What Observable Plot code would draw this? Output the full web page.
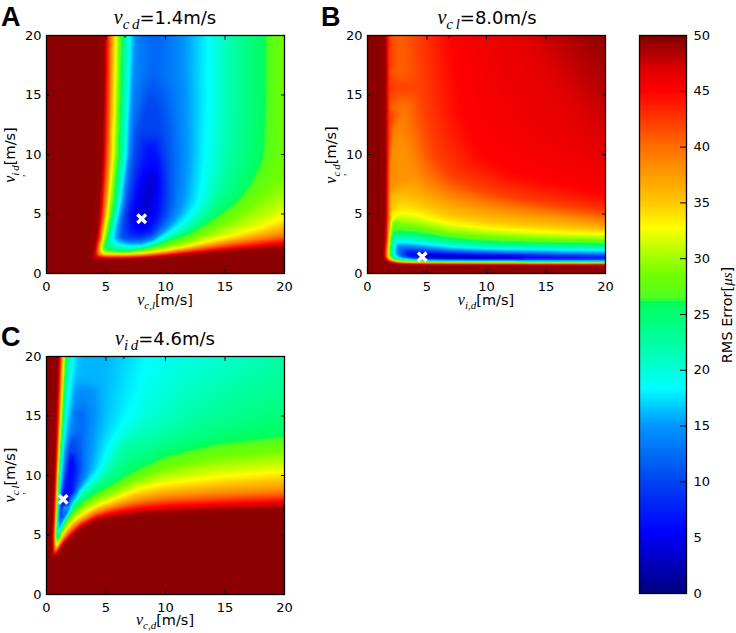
<!DOCTYPE html>
<html><head><meta charset="utf-8">
<script src="https://cdn.jsdelivr.net/npm/d3@7"></script>
<script src="https://cdn.jsdelivr.net/npm/@observablehq/plot@0.6"></script>
<style>
html,body{margin:0;padding:0;background:#fff}
#c{position:relative;width:736px;height:633px;overflow:hidden;font-family:"DejaVu Sans",sans-serif;color:#000}
#c svg{position:absolute;background:transparent;overflow:visible}
.t{position:absolute;white-space:nowrap;line-height:20px}
.v{font-family:"Liberation Serif",serif;font-style:italic}
.s{position:relative;font-family:"Liberation Serif",serif;font-style:italic}
.k{position:relative;font-family:"Liberation Serif",serif;font-style:normal}
.L{position:absolute;font-family:"Liberation Sans",sans-serif;font-weight:bold;font-size:27px;line-height:27px}
</style></head><body><div id="c"></div>
<script>
const S = 49.6; // saturated dark red area
const ticks = [0,5,10,15,20];
const barTicks = [0,5,10,15,20,25,30,35,40,45,50];
const colorStops = [0,5.5,10,15,18.4,22,26.1,26.4,28.5,31,32.7,35,40,45,47,49.6,50];
const colorRange = ["#00007f","#0000ff","#0044f0","#0096ff","#00ffff","#00ffaa","#00ff5a","#50ff20","#70ff00","#c0ff00","#ffff00","#ffc800","#ff6e00","#ff0000","#dc0000","#8b0000","#7a0000"];
const corners = [[0,0],[20,0],[0,20],[20,20]];

// Panel A: iso-error lines [value, [x = v_c,l, y = v_i,d]...]
const isoA = [
[S,[[4.9,20],[4.88,17],[4.83,14],[4.78,12],[4.72,10],[4.62,8],[4.5,6],[4.42,5],[4.33,4],[4.2,3],[4.08,2.4],[3.95,1.6],[3.9,1.27],[4.3,1.24],[5,1.22],[6,1.22],[7,1.25],[8,1.28],[9,1.35],[10,1.42],[12,1.6],[14,1.8],[16,2],[18,2.15],[20,2.3]]],
[45,[[5.1,20],[5.08,17],[5.03,14],[4.99,12],[4.95,10],[4.85,8],[4.72,6],[4.65,5],[4.55,4],[4.42,3],[4.28,2.4],[4.15,1.7],[4.2,1.42],[5,1.36],[6,1.36],[7,1.38],[8,1.42],[9,1.5],[10,1.58],[12,1.8],[14,2],[16,2.2],[18,2.4],[20,2.6]]],
[38,[[5.45,20],[5.42,17],[5.36,14],[5.3,12],[5.25,10],[5.12,8],[4.98,6],[4.88,5],[4.72,4],[4.58,3],[4.43,2.4],[4.35,1.8],[4.5,1.55],[5,1.5],[6,1.48],[7,1.5],[8,1.55],[9,1.65],[10,1.77],[12,2.05],[14,2.38],[16,2.7],[18,3],[20,3.35]]],
[32.7,[[5.8,20],[5.75,17],[5.68,14],[5.6,12],[5.55,10],[5.38,8],[5.2,6],[5.1,5],[4.92,4],[4.78,3],[4.62,2.4],[4.55,2],[4.8,1.72],[5,1.68],[6,1.65],[7,1.65],[8,1.68],[9,1.8],[10,1.95],[12,2.3],[14,2.75],[16,3.2],[18,3.8],[20,4.7]]],
[29,[[9,2.05],[10,2.2],[12,2.7],[14,3.6],[16,4.6],[18,6],[20,7.6]]],
[28.5,[[20,20],[20,17],[20,14],[20,11],[20,9]]],
[27.5,[[8,1.95],[10,2.4],[12,3.05],[14,4.1],[16,5.6],[18,7.6],[19,9.5],[19.2,12],[19.2,16],[19.2,20]]],
[26.3,[[6.25,20],[6.2,17],[6.12,14],[6.05,12],[6,10],[5.8,8],[5.6,6],[5.45,5],[5.25,4],[5.05,3],[4.88,2.4],[4.85,2.1],[5.2,1.9],[6,1.84],[7,1.85],[8,2.05],[10,2.75],[12,3.4],[14,4.5],[16,5.8],[17.2,7.3],[18,9],[18.3,10],[18.4,12],[18.5,14],[18.5,17],[18.5,20]]],
[22,[[6.7,20],[6.65,17],[6.57,14],[6.5,12],[6.45,10],[6.2,8],[6,6],[5.8,5],[5.55,4],[5.3,3],[5.25,2.4],[6,2.1],[7,2.05],[8,2.15],[9,2.4],[10,2.8],[12,3.85],[13,4.8],[14,6.2],[14.7,8],[15.2,10],[15.4,12],[15.5,14],[15.5,17],[15.5,20]]],
[18.4,[[7,20],[6.95,17],[6.85,14],[6.78,12],[6.7,10],[6.45,8],[6.2,6],[6,5],[5.75,4],[5.5,3],[5.8,2.45],[7,2.28],[8,2.3],[9,2.6],[10,3.2],[11,3.9],[12,4.8],[12.8,6],[13.1,8],[13.3,10],[13.4,12],[13.5,14],[13.5,17],[13.6,20]]],
[14,[[7.5,20],[7.3,17],[7.1,14],[7,12],[6.9,10],[6.65,8],[6.4,6],[6.2,5],[6,4],[5.95,3],[6.5,2.75],[7,2.6],[8,2.6],[9,2.9],[10,3.8],[10.8,5],[11.1,6],[11.3,8],[11.4,10],[11.3,12],[11.2,14],[11.1,17],[11,20]]],
[12,[[8.5,20],[9.5,20],[9,17]]],
[10,[[8.8,14.5],[8.4,14],[7.6,12],[7.4,10],[7.1,8],[6.8,6],[6.6,5],[6.45,4],[6.4,3],[7,2.9],[8,2.9],[9,3.3],[9.8,4.5],[10,5],[10.1,6],[10.1,8],[9.9,10],[9.7,12],[9.2,14],[8.8,14.5]]],
[6,[[7.1,4],[7.7,3.4],[8.6,3.6],[9.3,5],[9.6,7],[9.4,9.5],[8.8,10.5],[8.2,9],[7.7,7.5],[7.3,6],[7,5],[7.1,4]]],
[3,[[8,4.6],[8.3,5.2],[8.6,6.8],[8.8,8]]]
];
const markA = [8.0,4.6];

// Panel B: iso-error lines [value, [x = v_i,d, y = v_c,d]...]
const isoB = [
[S,[[1.6,20],[1.6,17],[1.6,14],[1.6,12],[1.6,10],[1.58,8],[1.56,6.5],[1.55,5],[1.52,4],[1.5,3],[1.45,2.4],[1.38,1.8],[1.38,1.4],[1.5,1.15],[2,0.95],[2.5,0.88],[3,0.85],[4,0.82],[5,0.81],[7,0.8],[10,0.79],[13,0.79],[16,0.78],[20,0.78]]],
[45,[[1.67,20],[1.67,17],[1.67,14],[1.67,12],[1.67,10],[1.66,8],[1.66,6.5],[1.66,5],[1.64,4],[1.62,3],[1.56,2.4],[1.5,1.8],[1.52,1.4],[1.65,1.15],[2,1],[2.5,0.91],[3,0.88],[4,0.86],[5,0.85],[7,0.83],[10,0.83],[13,0.82],[16,0.82],[20,0.82]]],
[42,[[1.82,20],[1.82,17],[1.8,14],[1.78,12],[1.76,10],[1.74,8],[1.73,6.5],[1.72,5],[1.7,4],[1.68,3]]],
[40.5,[[2.3,20],[2.8,20],[2.8,17],[2.2,17]]],
[39.5,[[2.15,14],[2.8,14],[3.2,14]]],
[38,[[3,11],[2.3,11.5],[2,10],[1.9,8],[1.85,6.5],[1.8,5],[1.76,4],[1.73,3],[1.68,2.4],[1.65,1.8],[1.64,1.4],[1.75,1.2],[2,1.07],[2.5,0.96],[3,0.92],[4,0.89],[5,0.88],[7,0.86],[10,0.86],[13,0.85],[16,0.85],[20,0.85]]],
[35,[[3,6.1],[2.1,6.5],[1.97,5],[1.88,4],[1.8,3],[1.73,2.4],[1.7,1.8],[1.7,1.4]]],
[32.7,[[3,5],[2.1,5],[1.97,4],[1.86,3],[1.78,2.4],[1.75,1.8],[1.75,1.4],[1.9,1.2],[2.5,1],[3,0.96],[4,0.94],[5,0.92],[7,0.91],[10,0.89],[13,0.89],[16,0.88],[20,0.88]]],
[32.7,[[3,5],[4,4.9],[5,4.6],[7,4.1],[10,3.8],[13,3.55],[16,3.4],[20,3.3]]],
[35,[[3,6.1],[4,6],[5,5.5],[7,4.8],[10,4.3],[13,4.05],[16,3.85],[20,3.6]]],
[38,[[3,11],[4,8.2],[5,7.2],[7,6.2],[10,5.5],[13,5.1],[16,4.8],[20,4.2]]],
[42,[[4,20],[4.3,17],[4.6,14],[5,12],[5.5,10],[7,8],[10,6.8],[13,6.1],[16,5.6],[20,5.1]]],
[45,[[7,20],[7.4,17],[7.8,14],[8.6,12],[9.5,10],[12,8.5],[16,7.5],[20,6.5]]],
[46.5,[[12.5,20],[16,15],[18,12],[20,10]]],
[48,[[16,20],[18,17],[20,14.5]]],
[26.3,[[2.5,3.55],[2.15,4],[2,3],[1.95,2.4],[1.9,1.8],[1.95,1.4],[2.1,1.25],[2.5,1.12],[3,1.07],[4,1.02],[5,0.98],[7,0.96],[10,0.94],[13,0.93],[16,0.93],[20,0.92]]],
[26.3,[[2.5,3.55],[3,3.5],[4,3.45],[5,3.3],[7,2.95],[10,2.7],[13,2.6],[16,2.55],[20,2.5]]],
[22,[[2.5,3.1],[2.2,3],[2.15,2.4],[2.1,1.8],[2.2,1.4],[2.5,1.25],[3,1.17],[4,1.1],[5,1.04],[7,1.02],[10,1],[13,0.99],[16,0.98],[20,0.98]]],
[22,[[2.5,3.1],[3,3.05],[4,2.95],[5,2.8],[7,2.5],[10,2.3],[13,2.25],[16,2.2],[20,2.15]]],
[18.4,[[2.5,2.7],[2.3,2.4],[2.25,1.8],[2.4,1.4],[3,1.25],[4,1.15],[5,1.08],[7,1.06],[10,1.05],[13,1.04],[16,1.03],[20,1.03]]],
[18.4,[[2.5,2.7],[3,2.6],[4,2.5],[5,2.4],[7,2.2],[10,2.05],[13,2],[16,1.95],[20,1.9]]],
[12,[[2.7,2.15],[2.6,1.8],[2.8,1.4],[3,1.35],[4,1.25],[5,1.18],[7,1.15],[10,1.13],[13,1.12],[16,1.12],[20,1.12]]],
[12,[[2.7,2.15],[3,2.15],[4,2.12],[5,2],[7,1.85],[10,1.75],[13,1.7],[16,1.62],[20,1.57]]],
[6,[[3.6,1.72],[3.4,1.55],[3.6,1.4],[4,1.36],[5,1.28],[7,1.25],[10,1.22],[13,1.22],[16,1.23],[20,1.27]]],
[6,[[3.6,1.72],[4,1.75],[5,1.7],[7,1.6],[10,1.55],[13,1.5],[16,1.43],[20,1.33]]],
[2,[[5,1.45],[7,1.5],[10,1.42],[13,1.35],[13,1.3],[10,1.28],[7,1.3],[5,1.35],[5,1.45]]]
];
const markB = [4.6,1.4];

// Panel C: iso-error lines [value, [x = v_c,d, y = v_c,l]...]
const isoC = [
[S,[[1.06,20],[0.97,17],[0.9,15],[0.82,12],[0.76,10],[0.68,8],[0.65,7],[0.62,6],[0.58,5],[0.56,3.05],[0.84,3.47],[1.4,4.17],[2,4.8],[2.8,5.57],[4.2,6.27],[5.6,6.55],[7.56,6.83],[10,7],[15,7.25],[20,7.4]]],
[45,[[1.15,20],[1.05,17],[0.98,15],[0.88,12],[0.82,10],[0.74,8],[0.7,7],[0.66,6],[0.62,5],[0.63,3.25],[0.9,3.65],[1.4,4.4],[2,5.05],[2.8,5.8],[4.2,6.55],[5.6,6.9],[7.5,7.2],[10,7.4],[15,7.6],[20,7.8]]],
[38,[[1.3,20],[1.18,17],[1.1,15],[0.97,12],[0.88,10],[0.8,8],[0.76,7],[0.72,6],[0.67,5],[0.7,3.5],[1,4.05],[1.4,4.75],[2,5.5],[2.8,6.15],[4.2,6.95],[5.6,7.4],[7.5,7.9],[10,8.3],[15,8.6],[20,8.8]]],
[32.7,[[1.45,20],[1.3,17],[1.2,15],[1.03,12],[0.92,10],[0.86,8],[0.82,7],[0.78,6],[0.72,5],[0.75,3.8],[1,4.4],[1.4,5.2],[2,5.95],[2.8,6.55],[4.2,7.4],[5.6,7.95],[7.5,8.8],[10,9.3],[15,9.9],[20,10.3]]],
[26.3,[[1.62,20],[1.45,17],[1.35,15],[1.15,12],[1.02,10],[0.95,8],[0.9,7],[0.85,6],[0.8,5],[0.85,4.2],[1,4.7],[1.4,5.8],[2,6.8],[2.8,7.65],[4.2,8.5],[5.6,9.2],[7.5,10.3],[10,11.5],[14,12.5],[20,13.1]]],
[24,[[2.4,7.7],[4.2,9],[5.6,9.9],[7,11.2],[10,12.6],[14,13.8],[20,15.8]]],
[22.5,[[20,20]]],
[22,[[1.85,20],[1.6,17],[1.5,15],[1.25,12],[1.12,10],[1,8],[0.95,7],[0.9,6],[0.88,5],[0.95,4.6],[1.4,6.2],[2,7.3],[2.8,8.2],[4.2,9.4],[5.3,10.5],[6.5,12.5],[10,13.7],[14,16.3],[18,19],[19.5,20]]],
[18.4,[[2.2,20],[1.85,17],[1.68,15],[1.38,12],[1.2,10],[1.08,8],[1,7],[0.95,6],[1,4.9],[1.4,6.9],[2.4,8.4],[2.8,8.8],[3.6,9.5],[4.5,10.5],[5.3,12.5],[6.8,15],[7.8,17.5],[8.5,20]]],
[16,[[2.8,20],[2.2,17],[1.9,15],[1.5,12]]],
[16,[[5,20],[4.7,17],[4.7,15],[4.2,12.5],[3.9,10.5],[3,9]]],
[14,[[2.7,17],[2.2,15],[1.6,12],[1.42,10],[1.15,8],[1.08,7],[1,6],[1.1,5.3],[1.35,6.1],[1.6,6.7],[2,7.5],[2.6,8.5],[3.2,10],[3.4,12.5],[3.6,15],[3.4,16.5],[2.7,17]]],
[12,[[2.5,15.2],[3,15.2],[2.9,12.5],[3.1,10.5]]],
[10,[[2.2,13],[1.85,12],[1.55,10],[1.22,8],[1.14,7],[1.2,5.7],[1.45,6.2],[1.9,7],[2.4,8.5],[2.7,10.5],[2.5,12],[2.2,13]]],
[6,[[1.32,8],[1.22,7],[1.35,6.4],[1.6,6.8],[1.9,8],[2.2,9.5],[2.35,10.5],[2.2,11.5],[1.95,11],[1.8,10],[1.55,9],[1.32,8]]]
];
const markC = [1.4,8.0];

const barLevels = d3.range(0,50,0.2);

const color = {type:"linear",domain:colorStops,range:colorRange,clamp:true};
// Each iso-line is walked at a fine step so that the triangulation follows the drawn line
function table(iso){
  const seen=new Map();
  const add=(x,y,v)=>{const k=x.toFixed(3)+","+y.toFixed(3);if(!seen.has(k))seen.set(k,{x,y,v});};
  for(const [v,pts] of iso){
    pts.forEach(([x,y],i)=>{
      add(x,y,v);
      if(i+1<pts.length){
        const [a,b]=pts[i+1],n=Math.ceil(Math.hypot(a-x,b-y)/0.25);
        for(let k=1;k<n;k++)add(x+(a-x)*k/n,y+(b-y)*k/n,v);
      }
    });
  }
  for(const [x,y] of corners)add(x,y,S);
  return [...seen.values()];
}
const c = document.getElementById("c");
const noText = ()=>"";

// barycentric fill, then an edge-keeping soft smoothing of the values (the reference is a smooth image)
function boxBlur(src,w,h,r){
  const a=Float64Array.from(src),b=new Float64Array(w*h);
  for(let y=0;y<h;y++){let s=0;for(let x=-r;x<=r;x++)s+=a[y*w+Math.min(w-1,Math.max(0,x))];
    for(let x=0;x<w;x++){b[y*w+x]=s/(2*r+1);s+=a[y*w+Math.min(w-1,x+r+1)]-a[y*w+Math.max(0,x-r)];}}
  const o=new Float64Array(w*h);
  for(let x=0;x<w;x++){let s=0;for(let y=-r;y<=r;y++)s+=b[Math.min(h-1,Math.max(0,y))*w+x];
    for(let y=0;y<h;y++){o[y*w+x]=s/(2*r+1);s+=b[Math.min(h-1,y+r+1)*w+x]-b[Math.max(0,y-r)*w+x];}}
  return o;
}
const bary = Plot.interpolatorBarycentric();
function smoothInterp(index,w,h,X,Y,V){
  const f=Float64Array.from(bary(index,w,h,X,Y,V),Number);
  // holes from degenerate triangles take the nearest neighbour along the row, then column
  for(let y=0;y<h;y++){
    for(let x=1;x<w;x++)if(!isFinite(f[y*w+x]))f[y*w+x]=f[y*w+x-1];
    for(let x=w-2;x>=0;x--)if(!isFinite(f[y*w+x]))f[y*w+x]=f[y*w+x+1];
  }
  for(let x=0;x<w;x++){
    for(let y=1;y<h;y++)if(!isFinite(f[y*w+x]))f[y*w+x]=f[(y-1)*w+x];
    for(let y=h-2;y>=0;y--)if(!isFinite(f[y*w+x]))f[y*w+x]=f[(y+1)*w+x];
  }
  const fine=boxBlur(boxBlur(f,w,h,1),w,h,1), wide=boxBlur(boxBlur(f,w,h,4),w,h,4);
  const o=new Float64Array(w*h);
  for(let i=0;i<o.length;i++){
    const t=Math.min(1,Math.abs(fine[i]-wide[i])/1.5);
    o[i]=t*fine[i]+(1-t)*wide[i];
  }
  return o;
}

function panel(left,top,iso,mark){
  const p = Plot.plot({
    width:300,height:300,marginLeft:46,marginRight:16,marginTop:35,marginBottom:27,
    style:{fontFamily:"DejaVu Sans",fontSize:"13px",color:"#000",background:"transparent"},
    x:{domain:[0,20],label:null},y:{domain:[0,20],label:null},color,
    marks:[
      Plot.raster(table(iso),{x:"x",y:"y",fill:"v",interpolate:smoothInterp,x1:0,x2:20,y1:0,y2:20,pixelSize:1}),
      Plot.axisX(ticks,{anchor:"bottom",tickSize:-4,tickFormat:noText,label:null}),
      Plot.axisX(ticks,{anchor:"top",tickSize:-4,tickFormat:noText,label:null}),
      Plot.axisY(ticks,{anchor:"left",tickSize:-4,tickFormat:noText,label:null}),
      Plot.axisY(ticks,{anchor:"right",tickSize:-4,tickFormat:noText,label:null}),
      Plot.axisX(ticks,{anchor:"bottom",tickSize:0,tickPadding:8,fontSize:13,label:null}),
      Plot.axisY(ticks,{anchor:"left",tickSize:0,tickPadding:5,fontSize:13,label:null}),
      Plot.frame({stroke:"#000",strokeWidth:1.3}),
      Plot.dot([mark],{x:d=>d[0],y:d=>d[1],symbol:"times",r:4,stroke:"#fff",strokeWidth:3.4})
    ]
  });
  p.style.left=left+"px";p.style.top=top+"px";
  c.appendChild(p);
}
panel(0,0,isoA,markA);
panel(321,0,isoB,markB);
panel(0,321,isoC,markC);

const bar = Plot.plot({
  width:116,height:600,marginLeft:19,marginRight:50,marginTop:35,marginBottom:7,
  style:{fontFamily:"DejaVu Sans",fontSize:"13px",color:"#000",background:"transparent"},
  x:{domain:[0,1],axis:null},y:{domain:[0,50],label:null},color,
  marks:[
    Plot.rect(barLevels,{x1:0,x2:1,y1:d=>d,y2:d=>d+0.2,fill:d=>d+0.1,shapeRendering:"crispEdges"}),
    Plot.axisY(barTicks,{anchor:"right",tickSize:-7,tickFormat:noText,label:null}),
    Plot.axisY(barTicks,{anchor:"right",tickSize:0,tickPadding:7,fontSize:13,label:null}),
    Plot.frame({stroke:"#000",strokeWidth:1.3})
  ]
});
bar.style.left="620px";bar.style.top="0px";
c.appendChild(bar);

// rich text pieces: v with subscript; "fall" drops the comma under the first letter as in the reference
function math(a,b,vs,ss,fall){
  const comma = fall
    ? `<span class="k" style="top:${ss*0.42}px;margin-left:-${ss*0.4}px;margin-right:${ss*0.35}px;font-size:${ss*0.9}px">,</span>`
    : `<span class="k">,</span>`;
  return `<span class="v" style="font-size:${vs}px">v</span><span class="s" style="font-size:${ss}px;top:${ss*0.36}px">${a}${comma}${b}</span>`;
}
function label(html,x,y,size,rot){
  const d=document.createElement("div");d.className="t";d.innerHTML=html;
  d.style.cssText+=`left:${x}px;top:${y}px;font-size:${size}px;transform:translate(-50%,-50%)${rot?" rotate(-90deg)":""}`;
  c.appendChild(d);
}
label(math("c","d",20,15,true)+"=1.4m/s",165,18,18);
label(math("c","l",20,15,true)+"=8.0m/s",487,18,18);
label(math("i","d",20,15,true)+"=4.6m/s",165,339,18);
label(math("c","l",16,11)+"[m/s]",165,300,14.5);
label(math("i","d",16,11)+"[m/s]",486,300,14.5);
label(math("c","d",16,11)+"[m/s]",165,620,14.5);
label(math("i","d",16,11,true)+"[m/s]",11,155,14.5,true);
label(math("c","d",16,11,true)+"[m/s]",332,155,14.5,true);
label(math("c","l",16,11,true)+"[m/s]",11,475,14.5,true);
label('RMS Error[<span class="v" style="font-size:15px">μs</span>]',727,315,14.5,true);
[["A",1,4],["B",321,4],["C",1,324]].forEach(([t,x,y])=>{
  const d=document.createElement("div");d.className="L";d.textContent=t;d.style.left=x+"px";d.style.top=y+"px";c.appendChild(d);
});
</script></body></html>
